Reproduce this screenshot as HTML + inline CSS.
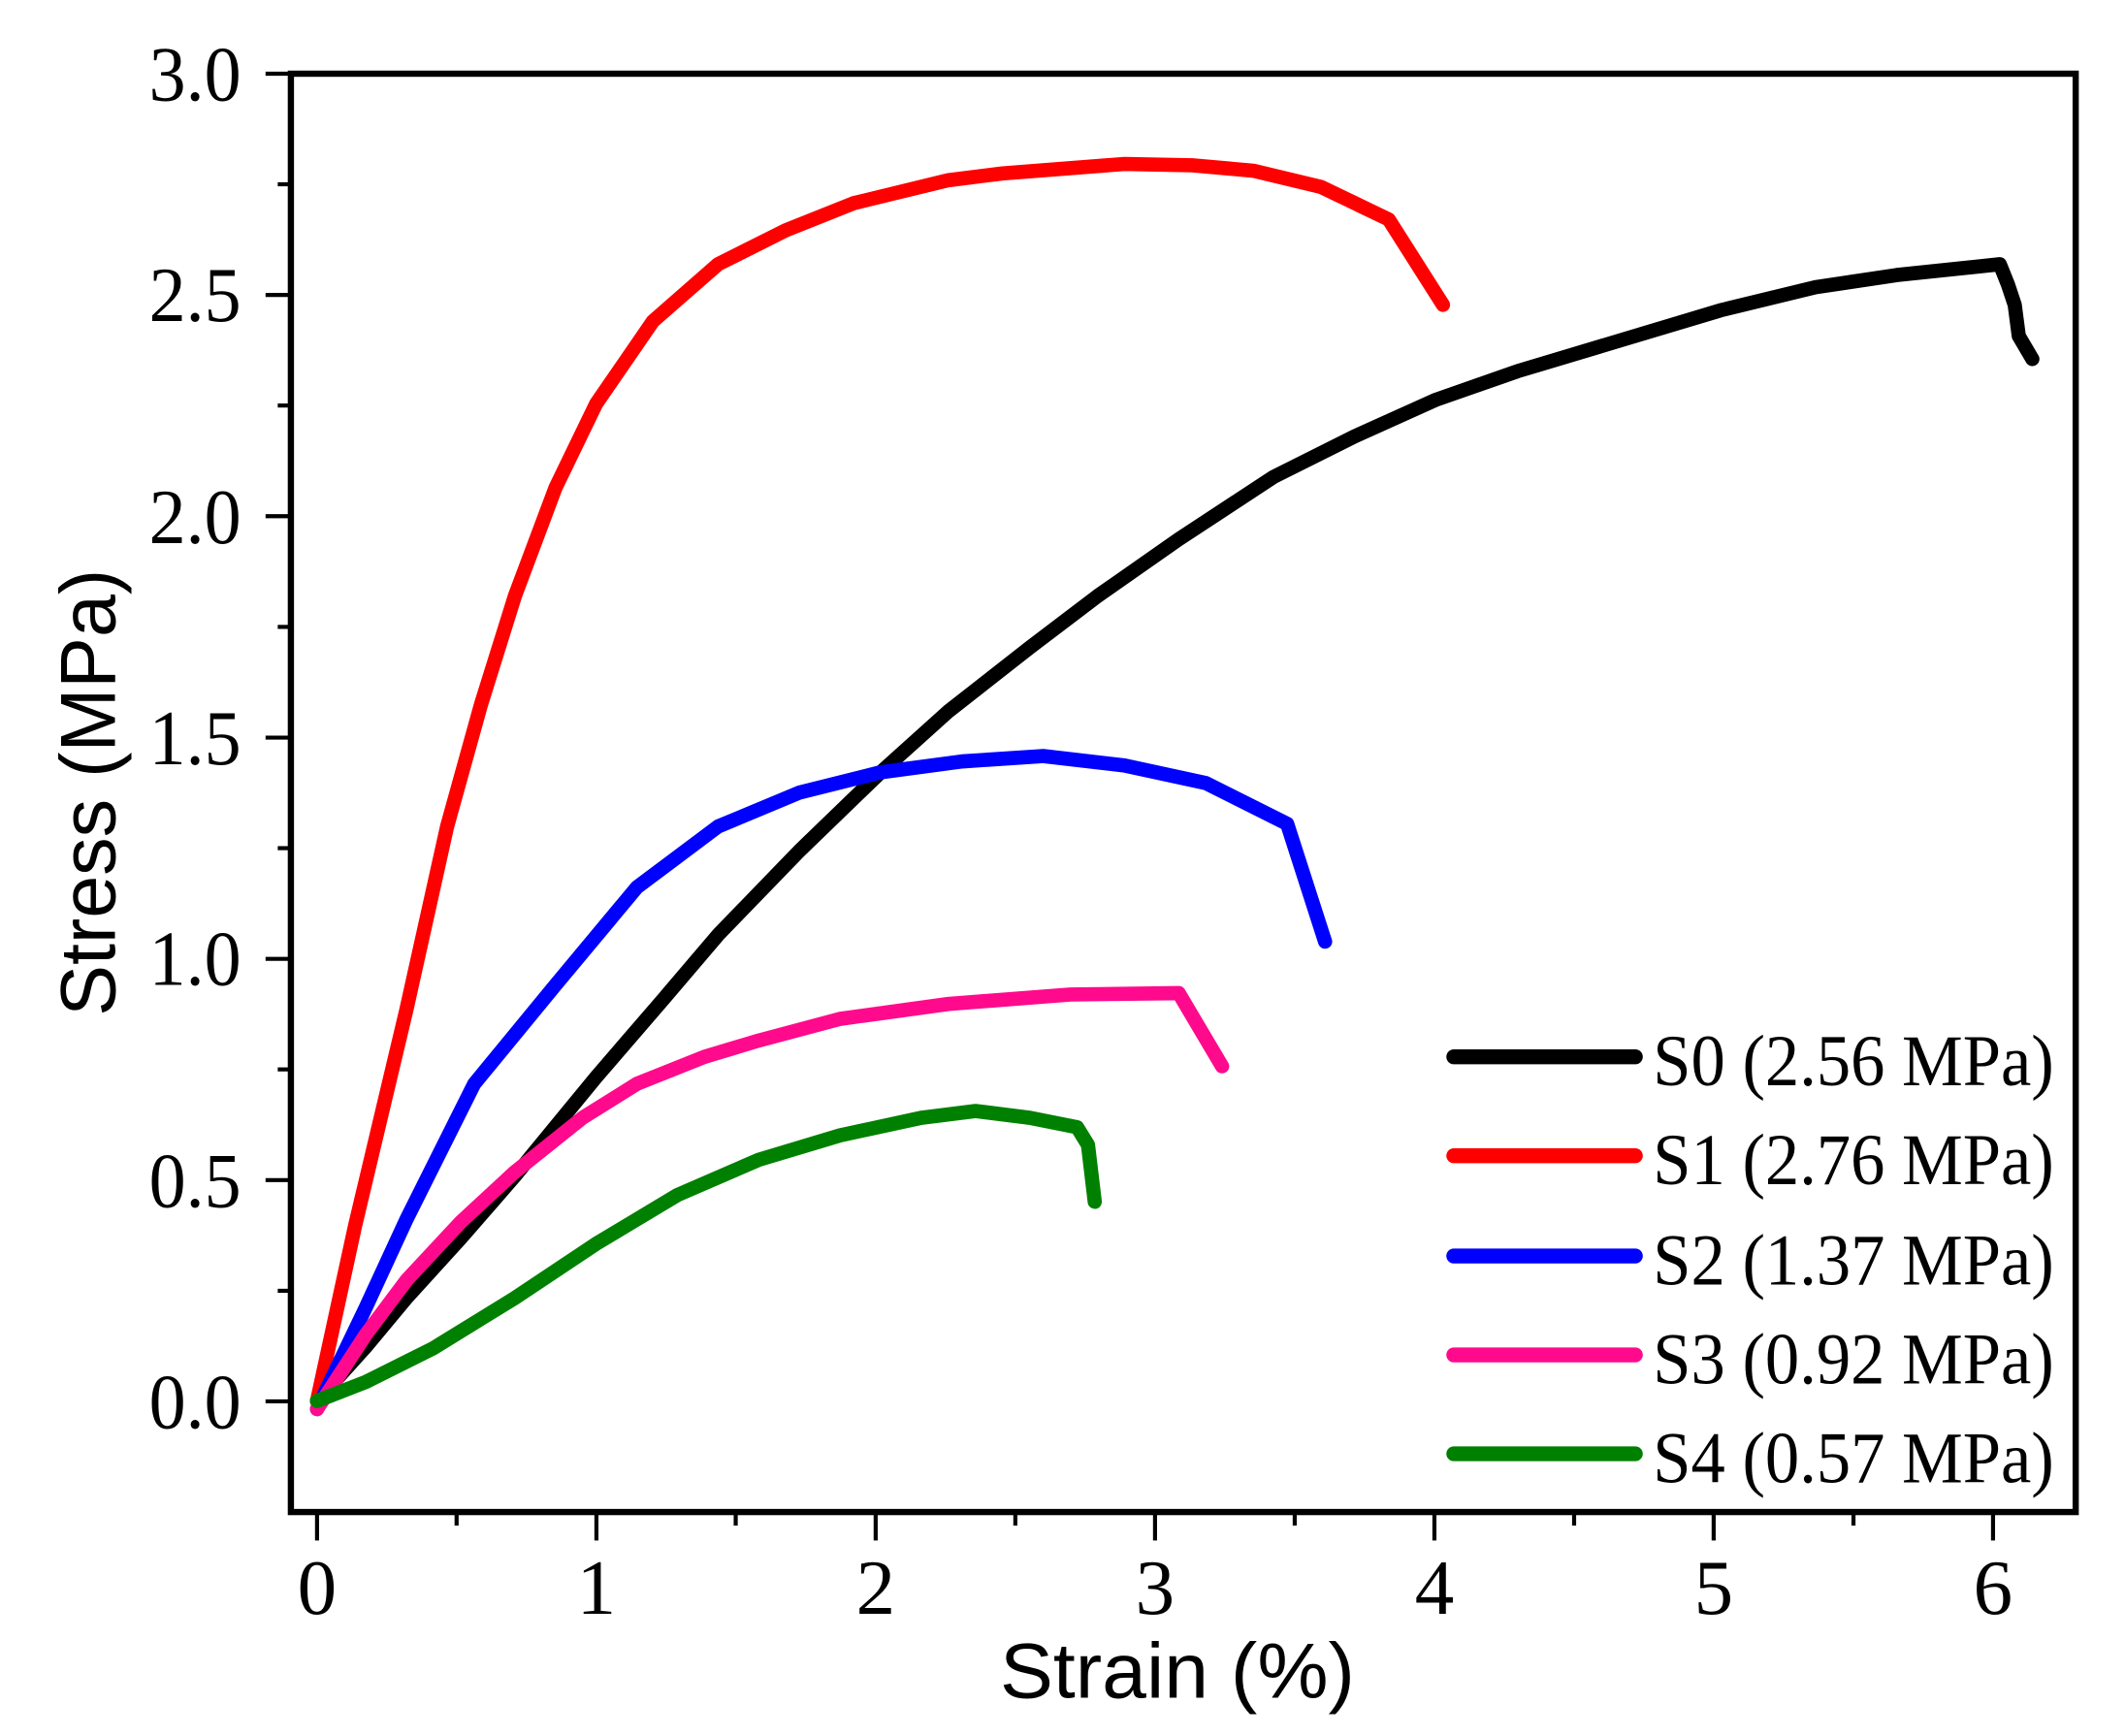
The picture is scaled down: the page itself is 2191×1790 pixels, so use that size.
<!DOCTYPE html>
<html><head><meta charset="utf-8"><style>html,body{margin:0;padding:0;background:#fff}svg{display:block}</style></head>
<body>
<svg width="2191" height="1790" viewBox="0 0 1568.4 1281.3" preserveAspectRatio="none" xmlns="http://www.w3.org/2000/svg">
<rect width="1568.4" height="1281.3" fill="#fff"/>
<g fill="none" stroke-linecap="round" stroke-linejoin="round" stroke-width="10.5">
<polyline stroke="#000" points="234,1034 270,994 300,958 340,914 380,868 440,795 490,737 530,690 590,628 650,570 700,525 760,478 810,440 870,398 940,352 1000,322 1060,295 1120,274 1200,250 1270,229 1340,212 1400,203 1476,195 1482,210 1487,225 1490,248 1500,265"/>
<polyline stroke="#f00" points="234,1034 262,905 300,745 330,610 355,520 380,440 410,360 440,298 482,237 530,195 580,170 630,150 700,133 740,128 830,121 880,122 925,126 975,138 1025,162 1065,225"/>
<polyline stroke="#00f" points="234,1040 270,965 300,900 350,800 410,727 470,655 530,610 590,585 650,570 710,562 770,558 830,565 890,578 950,608 978,695"/>
<polyline stroke="#ff0a8c" points="234,1040 270,985 300,945 340,902 380,865 430,825 470,800 520,780 560,768 620,752 700,741 790,734 870,733 902,787"/>
<polyline stroke="#008000" points="234,1034 270,1020 320,995 380,958 440,918 500,882 560,856 620,838 680,825 720,820 760,825 795,832 803,845 808,887"/>
</g>
<g stroke="#000" stroke-width="4.6" fill="none">
<rect x="214.7" y="54.4" width="1317.3" height="1061.6"/>
</g>
<g stroke="#000" stroke-width="3">
<line x1="196" y1="54.4" x2="214" y2="54.4"/><line x1="196" y1="217.7" x2="214" y2="217.7"/><line x1="196" y1="381" x2="214" y2="381"/><line x1="196" y1="544.4" x2="214" y2="544.4"/><line x1="196" y1="707.7" x2="214" y2="707.7"/><line x1="196" y1="871" x2="214" y2="871"/><line x1="196" y1="1034.3" x2="214" y2="1034.3"/>
<line x1="205" y1="136" x2="214" y2="136"/><line x1="205" y1="299.3" x2="214" y2="299.3"/><line x1="205" y1="462.7" x2="214" y2="462.7"/><line x1="205" y1="626" x2="214" y2="626"/><line x1="205" y1="789.3" x2="214" y2="789.3"/><line x1="205" y1="952.7" x2="214" y2="952.7"/>
<line x1="234" y1="1118" x2="234" y2="1137"/><line x1="440.2" y1="1118" x2="440.2" y2="1137"/><line x1="646.3" y1="1118" x2="646.3" y2="1137"/><line x1="852.5" y1="1118" x2="852.5" y2="1137"/><line x1="1058.7" y1="1118" x2="1058.7" y2="1137"/><line x1="1264.8" y1="1118" x2="1264.8" y2="1137"/><line x1="1471" y1="1118" x2="1471" y2="1137"/>
<line x1="337" y1="1118" x2="337" y2="1126"/><line x1="543" y1="1118" x2="543" y2="1126"/><line x1="749.4" y1="1118" x2="749.4" y2="1126"/><line x1="955.6" y1="1118" x2="955.6" y2="1126"/><line x1="1161.8" y1="1118" x2="1161.8" y2="1126"/><line x1="1368" y1="1118" x2="1368" y2="1126"/>
</g>
<g font-family="Liberation Serif, serif" font-size="58" fill="#000" text-anchor="end">
<text x="178" y="74" textLength="68" lengthAdjust="spacingAndGlyphs">3.0</text><text x="178" y="237" textLength="68" lengthAdjust="spacingAndGlyphs">2.5</text><text x="178" y="401" textLength="68" lengthAdjust="spacingAndGlyphs">2.0</text><text x="178" y="564" textLength="68" lengthAdjust="spacingAndGlyphs">1.5</text><text x="178" y="727" textLength="68" lengthAdjust="spacingAndGlyphs">1.0</text><text x="178" y="891" textLength="68" lengthAdjust="spacingAndGlyphs">0.5</text><text x="178" y="1054" textLength="68" lengthAdjust="spacingAndGlyphs">0.0</text>
</g>
<g font-family="Liberation Serif, serif" font-size="58" fill="#000" text-anchor="middle">
<text x="234" y="1191">0</text><text x="440.2" y="1191">1</text><text x="646.3" y="1191">2</text><text x="852.5" y="1191">3</text><text x="1058.7" y="1191">4</text><text x="1264.8" y="1191">5</text><text x="1471" y="1191">6</text>
</g>
<text x="869" y="1253" font-family="Liberation Sans, sans-serif" font-size="58" text-anchor="middle" textLength="262" lengthAdjust="spacingAndGlyphs">Strain (%)</text>
<text transform="translate(85,585) rotate(-90)" font-family="Liberation Sans, sans-serif" font-size="58" text-anchor="middle" textLength="330" lengthAdjust="spacingAndGlyphs">Stress (MPa)</text>
<g stroke-width="11" stroke-linecap="round">
<line x1="1073" y1="780" x2="1207" y2="780" stroke="#000"/>
<line x1="1073" y1="853" x2="1207" y2="853" stroke="#f00"/>
<line x1="1073" y1="927" x2="1207" y2="927" stroke="#00f"/>
<line x1="1073" y1="1000" x2="1207" y2="1000" stroke="#ff0a8c"/>
<line x1="1073" y1="1073" x2="1207" y2="1073" stroke="#008000"/>
</g>
<g font-family="Liberation Serif, serif" font-size="54" fill="#000">
<text x="1220" y="801" textLength="296" lengthAdjust="spacingAndGlyphs">S0 (2.56 MPa)</text>
<text x="1220" y="874" textLength="296" lengthAdjust="spacingAndGlyphs">S1 (2.76 MPa)</text>
<text x="1220" y="948" textLength="296" lengthAdjust="spacingAndGlyphs">S2 (1.37 MPa)</text>
<text x="1220" y="1021" textLength="296" lengthAdjust="spacingAndGlyphs">S3 (0.92 MPa)</text>
<text x="1220" y="1094" textLength="296" lengthAdjust="spacingAndGlyphs">S4 (0.57 MPa)</text>
</g>
</svg>
</body></html>
